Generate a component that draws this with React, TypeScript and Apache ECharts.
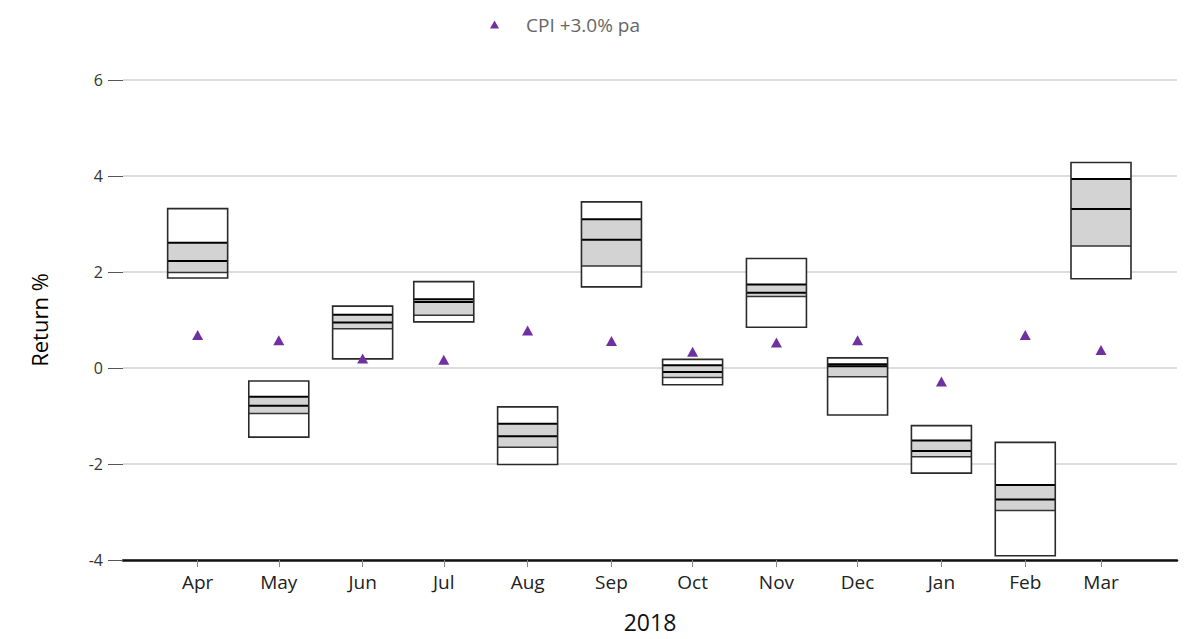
import React, { useEffect, useRef } from "react";
import * as echarts from "echarts";

const monthStarts: [number, number][] = [
  [2018, 3], [2018, 4], [2018, 5], [2018, 6], [2018, 7], [2018, 8],
  [2018, 9], [2018, 10], [2018, 11], [2019, 0], [2019, 1], [2019, 2],
];
const monthNames = ["Jan", "Feb", "Mar", "Apr", "May", "Jun", "Jul", "Aug", "Sep", "Oct", "Nov", "Dec"];
const boxMin = [1.875, -1.44, 0.19, 0.96, -2.01, 1.69, -0.35, 0.85, -0.98, -2.19, -3.91, 1.86];
const boxQ1 = [1.99, -0.95, 0.82, 1.1, -1.65, 2.125, -0.2, 1.49, -0.18, -1.85, -2.97, 2.54];
const boxMed = [2.23, -0.785, 0.95, 1.375, -1.42, 2.67, -0.083, 1.57, 0.035, -1.73, -2.74, 3.31];
const boxQ3 = [2.61, -0.6, 1.11, 1.43, -1.16, 3.1, 0.055, 1.74, 0.077, -1.51, -2.44, 3.94];
const boxMax = [3.32, -0.27, 1.29, 1.8, -0.81, 3.46, 0.18, 2.28, 0.21, -1.2, -1.55, 4.28];
const cpi = [0.69, 0.58, 0.2, 0.17, 0.78, 0.56, 0.34, 0.53, 0.58, -0.28, 0.69, 0.375];
const cpiName = "CPI +3.0% pa";
const xTitle = "2018";
const yTitle = "Return %";

const DAY = 86400000;
const FONT = "'Open Sans', sans-serif";

export default function App() {
  const ref = useRef<HTMLDivElement>(null);
  useEffect(() => {
    document.body.style.margin = "0";
    if (!ref.current) return;
    const chart = echarts.init(ref.current, null, { renderer: "svg" });
    const times = monthStarts.map(([y, m]) => new Date(y, m, 1).getTime());
    const boxData = times.map((t, i) => [t, boxMin[i], boxQ1[i], boxMed[i], boxQ3[i], boxMax[i]]);
    const cpiData = times.map((t, i) => [t, cpi[i]]);
    const xMin = times[0] - 27.6 * DAY;
    const xMax = times[times.length - 1] + 28.1 * DAY;

    chart.setOption({
      animation: false,
      backgroundColor: "#ffffff",
      textStyle: { fontFamily: FONT },
      grid: {
        left: 123,
        right: 15,
        top: 80,
        bottom: 79,
        containLabel: false,
        outerBoundsMode: "none",
      },
      legend: {
        top: 10,
        left: 485,
        itemWidth: 9,
        itemHeight: 8,
        data: [{ name: cpiName, icon: "triangle", itemStyle: { color: "#7030a0", opacity: 1 } }],
        textStyle: { color: "#666666", fontSize: 19, fontFamily: FONT, padding: [0, 0, 0, 22] },
        selectedMode: false,
      },
      xAxis: {
        type: "time",
        min: xMin,
        max: xMax,
        splitNumber: 13,
        minInterval: 28 * DAY,
        maxInterval: 31 * DAY,
        name: xTitle,
        nameLocation: "middle",
        nameGap: 50,
        nameTextStyle: { fontSize: 23, color: "#111", fontFamily: FONT },
        axisLine: { show: true, onZero: false, lineStyle: { color: "#111", width: 2.5 } },
        axisTick: { show: true, length: 7, lineStyle: { color: "#888", width: 1 } },
        splitLine: { show: false },
        axisLabel: {
          fontSize: 19,
          color: "#222",
          margin: 12,
          showMinLabel: false,
          showMaxLabel: false,
          formatter: (v: number) => monthNames[new Date(v).getMonth()],
        },
      },
      yAxis: {
        type: "value",
        min: -4,
        max: 6,
        interval: 2,
        name: yTitle,
        nameLocation: "middle",
        nameRotate: 90,
        nameGap: 73,
        nameTextStyle: { fontSize: 22, color: "#000", fontFamily: FONT },
        axisLine: { show: false },
        axisTick: { show: true, length: 15, lineStyle: { color: "#555", width: 1 } },
        axisLabel: { fontSize: 16, color: "#333", margin: 20 },
        splitLine: { show: true, lineStyle: { color: "#dddddd", width: 2 } },
      },
      series: [
        {
          type: "custom",
          name: "range",
          z: 2,
          data: boxData,
          encode: { x: 0, y: [1, 2, 3, 4, 5] },
          renderItem: (params: any, api: any) => {
            const x = api.value(0);
            const cx = api.coord([x, 0])[0];
            const yv = (k: number) => api.coord([x, api.value(k)])[1];
            const yMin = yv(1), yQ1 = yv(2), yMed = yv(3), yQ3 = yv(4), yMax = yv(5);
            const hw = 30;
            const hline = (y: number, color: string, w: number) => ({
              type: "line",
              shape: { x1: cx - hw, y1: y, x2: cx + hw, y2: y },
              style: { stroke: color, lineWidth: w },
            });
            return {
              type: "group",
              children: [
                {
                  type: "rect",
                  shape: { x: cx - hw, y: yMax, width: 2 * hw, height: yMin - yMax },
                  style: { fill: "#ffffff", stroke: "none" },
                },
                {
                  type: "rect",
                  shape: { x: cx - hw, y: yQ3, width: 2 * hw, height: yQ1 - yQ3 },
                  style: { fill: "#d3d3d3", stroke: "none" },
                },
                hline(yQ1, "#333", 1.5),
                hline(yMed, "#000", 2),
                hline(yQ3, "#000", 2),
                {
                  type: "rect",
                  shape: { x: cx - hw, y: yMax, width: 2 * hw, height: yMin - yMax },
                  style: { fill: "none", stroke: "#2a2a2a", lineWidth: 1.6 },
                },
              ],
            };
          },
        },
        {
          type: "scatter",
          name: cpiName,
          z: 5,
          symbol: "triangle",
          symbolSize: [11, 10],
          itemStyle: { color: "#7030a0", opacity: 1 },
          data: cpiData,
        },
      ],
    });
    return () => chart.dispose();
  }, []);
  return <div ref={ref} style={{ width: 1192, height: 639 }} />;
}
